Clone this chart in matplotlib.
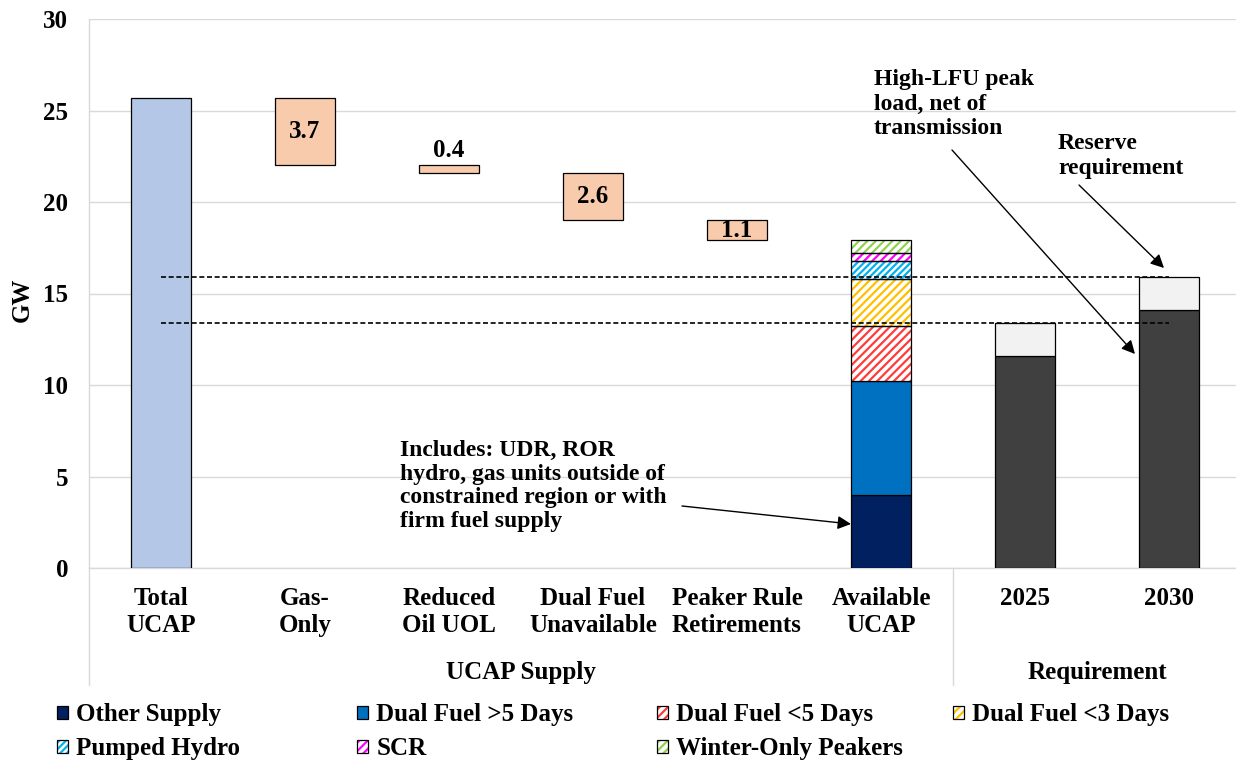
import matplotlib
matplotlib.use("Agg")
import matplotlib.pyplot as plt
import matplotlib.transforms as mtransforms
from matplotlib.patches import Patch
from matplotlib.lines import Line2D
import numpy as np

plt.rcParams['font.family'] = ['Liberation Serif', 'DejaVu Serif']
plt.rcParams['font.weight'] = 'bold'
plt.rcParams['axes.labelweight'] = 'bold'
plt.rcParams['hatch.linewidth'] = 1.6

# ---------------- data ----------------
categories = ["Total\nUCAP", "Gas-\nOnly", "Reduced\nOil UOL", "Dual Fuel\nUnavailable",
              "Peaker Rule\nRetirements", "Available\nUCAP", "2025", "2030"]
total_ucap = 25.7
reductions = [3.7, 0.4, 2.6, 1.1]

supply_labels = ["Other Supply", "Dual Fuel >5 Days", "Dual Fuel <5 Days", "Dual Fuel <3 Days",
                 "Pumped Hydro", "SCR", "Winter-Only Peakers"]
supply_values = [4.0, 6.2, 3.0, 2.6, 1.0, 0.4, 0.7]
supply_colors = ["#002060", "#0070C0", "#FF3B3B", "#FFC000", "#00B0F0", "#FF00FF", "#92D050"]
supply_hatch = [None, None, "////", "////", "/////", "////", "////"]

req_years = ["2025", "2030"]
req_load = [11.6, 14.1]
req_reserve = [1.8, 1.8]

group_labels = ["UCAP Supply", "Requirement"]
yticks = [0, 5, 10, 15, 20, 25, 30]

# ---------------- figure ----------------
W, H = 1236, 761
fig = plt.figure(figsize=(W / 100, H / 100), dpi=100)
ax_left, ax_right, ax_top, ax_bot = 89, 1236, 19, 568
ax = fig.add_axes([ax_left / W, (H - ax_bot) / H, (ax_right - ax_left) / W, (ax_bot - ax_top) / H])
step = 144.0
ax.set_xlim(-0.5, -0.5 + (ax_right - ax_left) / step)
ax.set_ylim(0, 30)

FS = 18
bw = 0.41
x = np.arange(len(categories))

# Total UCAP
ax.bar(x[0], total_ucap, width=bw, color="#B4C7E7", edgecolor="black", linewidth=0.9, zorder=3)

# waterfall reductions
top = total_ucap
for i, r in enumerate(reductions):
    xi = x[i + 1]
    bottom = top - r
    ax.bar(xi, r, bottom=bottom, width=bw, color="#F8CBAD", edgecolor="black", linewidth=0.9, zorder=3)
    if r < 0.6:
        ax.text(xi, top + 0.2, f"{r:.1f}", ha="center", va="bottom", fontsize=FS, zorder=5)
    else:
        ax.text(xi, bottom + r / 2, f"{r:.1f}", ha="center", va="center", fontsize=FS, zorder=5)
    top = bottom

# Available UCAP stacked
bottom = 0.0
legend_handles = []
for lab, v, c, h in zip(supply_labels, supply_values, supply_colors, supply_hatch):
    if h is None:
        ax.bar(x[5], v, bottom=bottom, width=bw, color=c, edgecolor="black", linewidth=0.9, zorder=3)
        legend_handles.append(Patch(facecolor=c, edgecolor="black", linewidth=0.9))
    else:
        ax.bar(x[5], v, bottom=bottom, width=bw, facecolor="white", edgecolor=c, hatch=h,
               linewidth=0, zorder=3)
        ax.bar(x[5], v, bottom=bottom, width=bw, facecolor="none", edgecolor="black",
               linewidth=0.9, zorder=3.5)
        legend_handles.append((Patch(facecolor="white", edgecolor=c, hatch=h, linewidth=0),
                               Patch(facecolor="none", edgecolor="black", linewidth=0.9)))
    bottom += v

# Requirement bars
ax.bar(x[6:], req_load, width=bw, color="#404040", edgecolor="black", linewidth=0.9, zorder=3)
ax.bar(x[6:], req_reserve, bottom=req_load, width=bw, color="#F2F2F2", edgecolor="black",
       linewidth=0.9, zorder=3)

# dashed requirement lines
req_totals = [a + b for a, b in zip(req_load, req_reserve)]
for t in req_totals:
    ax.hlines(t, x[0], x[-1], colors="black", linestyles=(0, (3, 1.6)), linewidth=1.2, zorder=4)

# axes styling
ax.set_yticks(yticks)
ax.set_yticklabels([str(t) for t in yticks], fontsize=FS)
ax.set_xticks(x)
ax.set_xticklabels(categories, fontsize=FS, linespacing=1.2)
ax.tick_params(axis="y", length=0, pad=15)
ax.tick_params(axis="x", length=0, pad=14)
ax.yaxis.grid(True, color="#D9D9D9", linewidth=1.0, zorder=0)
ax.set_axisbelow(True)
for s in ["top", "right"]:
    ax.spines[s].set_visible(False)
for s in ["left", "bottom"]:
    ax.spines[s].set_color("#D9D9D9")
    ax.spines[s].set_linewidth(1.0)
ax.set_ylabel("GW", fontsize=FS, fontweight="bold")
ax.yaxis.set_label_coords((34 - ax_left) / (ax_right - ax_left), (ax_bot - 300) / (ax_bot - ax_top))

# group labels and separators
trans = mtransforms.blended_transform_factory(ax.transData, ax.transAxes)
gy = (ax_bot - 672) / (ax_bot - ax_top)
ax.text(2.5, gy, group_labels[0], transform=trans, ha="center", va="center", fontsize=FS)
ax.text(6.5, gy, group_labels[1], transform=trans, ha="center", va="center", fontsize=FS)
sep_bot = (ax_bot - 685) / (ax_bot - ax_top)
for sx in [-0.5, 5.5]:
    ax.add_line(Line2D([sx, sx], [0, sep_bot], transform=trans, color="#D9D9D9", linewidth=1.0,
                       clip_on=False))

# annotations
def px2data(px, py):
    return (-0.5 + (px - ax_left) / step, (ax_bot - py) / ((ax_bot - ax_top) / 30.0))

arrow_kw = dict(arrowstyle="-|>", color="black", lw=1.0, mutation_scale=20, shrinkA=0, shrinkB=0)
ax.annotate("", xy=px2data(851, 524), xytext=px2data(682, 506), arrowprops=arrow_kw, zorder=6)
ax.annotate("", xy=px2data(1135, 354), xytext=px2data(952, 150), arrowprops=arrow_kw, zorder=6)
ax.annotate("", xy=px2data(1164, 268), xytext=px2data(1079, 185), arrowprops=arrow_kw, zorder=6)

tx, ty = px2data(400, 486)
ax.text(tx, ty, "Includes: UDR, ROR\nhydro, gas units outside of\nconstrained region or with\nfirm fuel supply",
        ha="left", va="center", fontsize=17, linespacing=1.15, zorder=6)
tx, ty = px2data(874, 104)
ax.text(tx, ty, "High-LFU peak\nload, net of\ntransmission", ha="left", va="center", fontsize=17,
        linespacing=1.25, zorder=6)
tx, ty = px2data(1058, 156)
ax.text(tx, ty, "Reserve\nrequirement", ha="left", va="center", fontsize=17, linespacing=1.2, zorder=6)

# legend (4 columns, row-major order)
col_x = [57, 357, 657, 953]
cols = [[0, 4], [1, 5], [2, 6], [3]]
for cx, idx in zip(col_x, cols):
    fig.legend([legend_handles[k] for k in idx], [supply_labels[k] for k in idx],
               loc="upper left", bbox_to_anchor=(cx / W, (H - 703) / H), frameon=False,
               fontsize=FS, borderpad=0, borderaxespad=0, handlelength=0.42, handleheight=0.42,
               handletextpad=0.35, labelspacing=0.45)

fig.savefig("out.png", dpi=100)
